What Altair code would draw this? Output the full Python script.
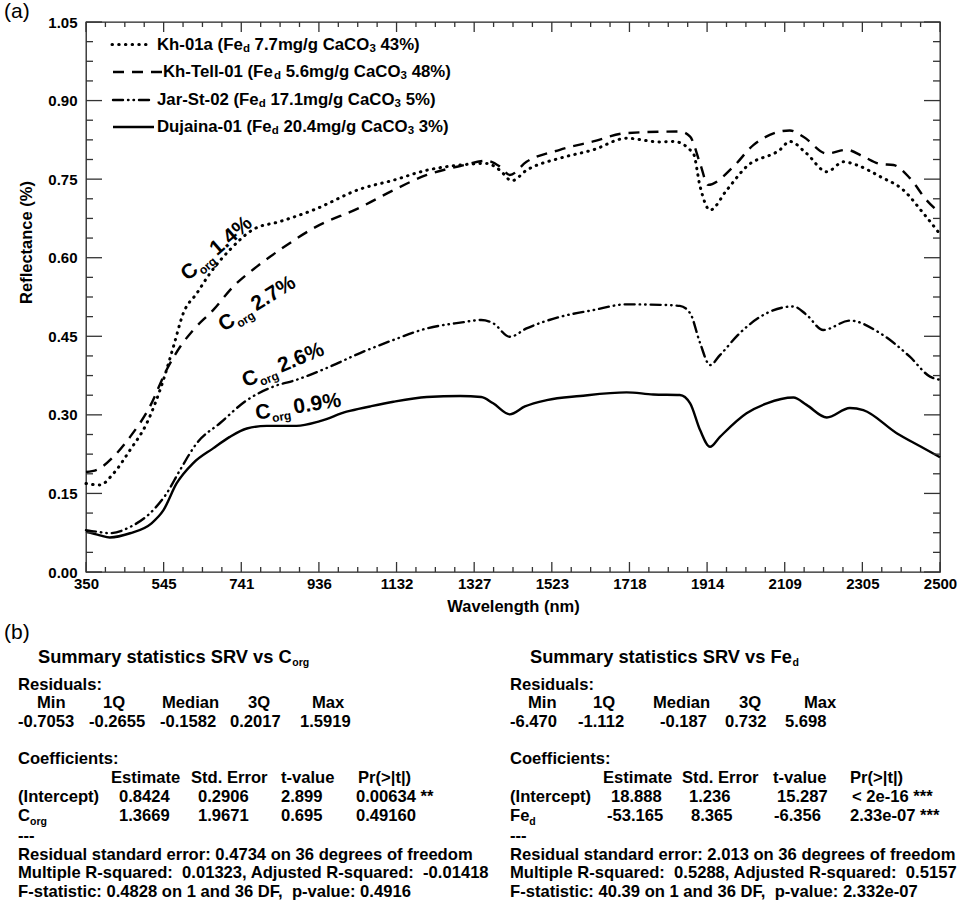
import altair as alt
import pandas as pd

FONT = "Liberation Sans"

# ---------------- data: reflectance spectra ----------------
KH01A_WL = [350, 385, 419, 461, 503, 545, 570, 595, 629, 662, 712, 771, 838, 922, 1040, 1124, 1208, 1292, 1359, 1392,
            1422, 1459, 1543, 1627, 1711, 1795, 1829, 1879, 1896, 1921, 1963, 2013, 2097, 2122, 2164, 2215, 2257, 2290,
            2349, 2408, 2458, 2500]
KH01A_R = [0.169, 0.166, 0.188, 0.233, 0.284, 0.367, 0.430, 0.494, 0.532, 0.570, 0.615, 0.654, 0.669, 0.691, 0.731,
           0.748, 0.767, 0.777, 0.780, 0.767, 0.747, 0.767, 0.790, 0.806, 0.828, 0.821, 0.822, 0.799, 0.736, 0.691,
           0.729, 0.774, 0.806, 0.822, 0.799, 0.764, 0.783, 0.777, 0.755, 0.729, 0.685, 0.645]

KHTELL_WL = [350, 377, 419, 461, 511, 553, 587, 620, 670, 721, 780, 838, 922, 1040, 1124, 1208, 1292, 1359, 1392, 1417,
             1459, 1543, 1627, 1711, 1845, 1871, 1896, 1916, 1980, 2030, 2122, 2156, 2215, 2265, 2307, 2349, 2383, 2424,
             2466, 2500]
KHTELL_R = [0.191, 0.195, 0.220, 0.258, 0.316, 0.386, 0.430, 0.462, 0.500, 0.545, 0.583, 0.615, 0.656, 0.696, 0.729,
            0.758, 0.775, 0.785, 0.774, 0.758, 0.783, 0.806, 0.822, 0.838, 0.841, 0.831, 0.780, 0.739, 0.774, 0.815,
            0.843, 0.831, 0.799, 0.806, 0.793, 0.779, 0.777, 0.752, 0.710, 0.685]

JAR_WL = [350, 385, 410, 461, 511, 553, 587, 629, 687, 755, 822, 880, 964, 1040, 1124, 1208, 1292, 1345, 1375, 1417,
          1459, 1543, 1627, 1711, 1795, 1845, 1871, 1896, 1921, 1946, 1996, 2047, 2131, 2164, 2206, 2273, 2349, 2424,
          2475, 2500]
JAR_R = [0.080, 0.076, 0.074, 0.086, 0.112, 0.150, 0.195, 0.246, 0.284, 0.328, 0.354, 0.367, 0.392, 0.418, 0.443,
         0.465, 0.476, 0.481, 0.475, 0.449, 0.465, 0.487, 0.500, 0.511, 0.510, 0.508, 0.494, 0.437, 0.395, 0.414,
         0.456, 0.487, 0.507, 0.491, 0.462, 0.480, 0.456, 0.411, 0.373, 0.367]

DUJ_WL = [350, 385, 410, 461, 515, 545, 578, 620, 670, 712, 755, 805, 880, 939, 1006, 1065, 1124, 1208, 1292, 1345,
          1375, 1417, 1455, 1510, 1594, 1711, 1778, 1845, 1871, 1896, 1921, 1946, 2013, 2064, 2131, 2164, 2215, 2273,
          2307, 2391, 2450, 2500]
DUJ_R = [0.077, 0.070, 0.066, 0.074, 0.093, 0.118, 0.169, 0.208, 0.236, 0.258, 0.274, 0.279, 0.279, 0.288, 0.306,
         0.316, 0.325, 0.334, 0.336, 0.334, 0.322, 0.301, 0.316, 0.328, 0.336, 0.343, 0.339, 0.338, 0.322, 0.271,
         0.239, 0.258, 0.303, 0.322, 0.333, 0.319, 0.295, 0.313, 0.309, 0.265, 0.240, 0.219]

# legend entries
LEG_NAME = ["Kh-01a", "Kh-Tell-01", "Jar-St-02", "Dujaina-01"]
LEG_FED = ["7.7mg/g", "5.6mg/g", "17.1mg/g", "20.4mg/g"]
LEG_CACO3 = ["43%)", "48%)", "5%)", "3%)"]

# C_org annotations
ANN_WL = [597, 689, 746, 777]
ANN_R = [0.563, 0.468, 0.363, 0.302]
ANN_PCT = ["1.4%", "2.7%", "2.6%", "0.9%"]
ANN_ANGLE = [319, 328, 337.5, 351]

# axis ticks
X_TICKS = [round(350 + i * 2150 / 11, 3) for i in range(12)]
X_MINOR = [round(350 + k * 2150 / 44, 3) for k in range(45) if k % 4]
Y_TICKS = [0.0, 0.15, 0.30, 0.45, 0.60, 0.75, 0.90, 1.05]
Y_MINOR = [round(0.0375 * k, 4) for k in range(29) if k % 4]

# statistics text (panel b)
RES_HEAD = ["Min", "1Q", "Median", "3Q", "Max"]
CORG_RES = ["-0.7053", "-0.2655", "-0.1582", "0.2017", "1.5919"]
FED_RES = ["-6.470", "-1.112", "-0.187", "0.732", "5.698"]
COEF_HEAD = ["Estimate", "Std. Error", "t-value", "Pr(>|t|)"]
CORG_INT = ["0.8424", "0.2906", "2.899", "0.00634 **"]
CORG_SLOPE = ["1.3669", "1.9671", "0.695", "0.49160"]
FED_INT = ["18.888", "1.236", "15.287", "< 2e-16 ***"]
FED_SLOPE = ["-53.165", "8.365", "-6.356", "2.33e-07 ***"]
CORG_FOOT = ["Residual standard error: 0.4734 on 36 degrees of freedom",
             "Multiple R-squared:  0.01323, Adjusted R-squared:  -0.01418",
             "F-statistic: 0.4828 on 1 and 36 DF,  p-value: 0.4916"]
FED_FOOT = ["Residual standard error: 2.013 on 36 degrees of freedom",
            "Multiple R-squared:  0.5288, Adjusted R-squared:  0.5157",
            "F-statistic: 40.39 on 1 and 36 DF,  p-value: 2.332e-07"]

# ---------------- layout ----------------
L, T = 86, 22          # plot origin in page pixels
W, H = 854, 550        # plot size
ONE = pd.DataFrame({"k": [0]})

AW = {' ': 278, '\u00a0': 278, '!': 333, '%': 889, '(': 333, ')': 333, '*': 389, ',': 278, '-': 333, '.': 278,
      '/': 278, ':': 333, '<': 584, '>': 584, '|': 280,
      'A': 722, 'B': 722, 'C': 722, 'D': 722, 'E': 667, 'F': 611, 'G': 778, 'H': 722, 'I': 278, 'J': 556, 'K': 722,
      'L': 611, 'M': 833, 'N': 722, 'O': 778, 'P': 667, 'Q': 778, 'R': 722, 'S': 667, 'T': 611, 'U': 722, 'V': 667,
      'W': 944, 'X': 667, 'Y': 667, 'Z': 611,
      'a': 556, 'b': 611, 'c': 556, 'd': 611, 'e': 556, 'f': 333, 'g': 611, 'h': 611, 'i': 278, 'j': 278, 'k': 556,
      'l': 278, 'm': 889, 'n': 611, 'o': 611, 'p': 611, 'q': 611, 'r': 389, 's': 556, 't': 333, 'u': 611, 'v': 556,
      'w': 778, 'x': 556, 'y': 556, 'z': 500}


def tw(s, size):
    return sum(AW.get(c, 556) for c in s) * size / 1000.0


def fix(s):
    return s.replace("  ", " \u00a0")


def piece(s, px, py, size, weight="bold", baseline="middle", align="left"):
    return alt.Chart(ONE).mark_text(align=align, baseline=baseline, font=FONT, fontSize=size,
                                    fontWeight=weight, color="black").encode(
        x=alt.value(px - L), y=alt.value(py - T), text=alt.value(fix(s)))


def rich(parts, px, py, size, sub_size, drop=None):
    """parts: list of (text, is_subscript)"""
    out = []
    cx = px
    base = py + 0.3 * size
    if drop is None:
        drop = 0.18 * size
    for s, sub in parts:
        sz = sub_size if sub else size
        lead = len(s) - len(s.lstrip(" "))
        cx += tw(" " * lead, size)
        core = s.strip(" ")
        if sub:
            out.append(piece(core, cx, base + drop, sz, baseline="alphabetic"))
        else:
            out.append(piece(core, cx, py, sz))
        cx += tw(core, sz)
    return out


xscale = alt.Scale(domain=[350, 2500], nice=False, zero=False)
yscale = alt.Scale(domain=[0, 1.05], nice=False, zero=False)
xaxis = alt.Axis(values=X_TICKS, format=".0f", title="Wavelength (nm)", labelFont=FONT, labelFontSize=15,
                 labelFontWeight="bold", labelColor="black", labelPadding=4, ticks=False, tickSize=0,
                 domain=False, grid=False, labelFlush=False, labelOverlap=False,
                 titleFont=FONT, titleFontSize=16.5, titleFontWeight="bold", titleColor="black",
                 titleY=34, titleBaseline="middle")
yaxis = alt.Axis(values=Y_TICKS, format=".2f", title="Reflectance (%)", labelFont=FONT, labelFontSize=15,
                 labelFontWeight="bold", labelColor="black", labelPadding=9, ticks=False, tickSize=0,
                 domain=False, grid=False, labelFlush=False, labelOverlap=False,
                 titleFont=FONT, titleFontSize=16.5, titleFontWeight="bold", titleColor="black",
                 titleX=-60, titleY=220, titleAngle=270, titleBaseline="middle", titleAlign="center")
X = alt.X("x:Q", scale=xscale, axis=xaxis)
Y = alt.Y("y:Q", scale=yscale, axis=yaxis)

layers = []

# spectra
STYLES = [
    dict(strokeDash=[0.5, 6.2], strokeWidth=3.0, strokeCap="round"),
    dict(strokeDash=[11, 8], strokeWidth=2.4),
    dict(strokeDash=[10, 5, 0.5, 5, 0.5, 5], strokeWidth=2.4, strokeCap="round"),
    dict(strokeWidth=2.4),
]
for wl, r, st in [(KH01A_WL, KH01A_R, STYLES[0]), (KHTELL_WL, KHTELL_R, STYLES[1]),
                  (JAR_WL, JAR_R, STYLES[2]), (DUJ_WL, DUJ_R, STYLES[3])]:
    df = pd.DataFrame({"x": wl, "y": r})
    layers.append(alt.Chart(df).mark_line(color="black", interpolate="monotone", **st).encode(x=X, y=Y))

# inward ticks
TC = "#333333"
ydf_maj = pd.DataFrame({"y": Y_TICKS})
ydf_min = pd.DataFrame({"y": Y_MINOR})
xdf_maj = pd.DataFrame({"x": X_TICKS})
xdf_min = pd.DataFrame({"x": X_MINOR})
for d, a, b in [(ydf_maj, 0, 16), (ydf_min, 0, 7), (ydf_maj, W, W - 16), (ydf_min, W, W - 7)]:
    layers.append(alt.Chart(d).mark_rule(color=TC, strokeWidth=1.3).encode(y=Y, x=alt.value(a), x2=alt.value(b)))
for d, a, b in [(xdf_maj, H, H - 10), (xdf_min, H, H - 5), (xdf_maj, 0, 10), (xdf_min, 0, 5)]:
    layers.append(alt.Chart(d).mark_rule(color=TC, strokeWidth=1.3).encode(x=X, y=alt.value(a), y2=alt.value(b)))

# C_org annotations
ann = pd.DataFrame({"x": ANN_WL, "y": ANN_R, "pct": ANN_PCT, "angle": ANN_ANGLE})
ANG = alt.Angle("angle:Q", scale=None)
layers.append(alt.Chart(ann).mark_text(align="left", baseline="middle", font=FONT, fontSize=21,
                                       fontWeight="bold", color="black").encode(x=X, y=Y, angle=ANG,
                                                                                text=alt.value("C")))
layers.append(alt.Chart(ann).mark_text(align="left", baseline="middle", font=FONT, fontSize=12, dx=15.5, dy=7,
                                       fontWeight="bold", color="black").encode(x=X, y=Y, angle=ANG,
                                                                                text=alt.value("org")))
layers.append(alt.Chart(ann).mark_text(align="left", baseline="middle", font=FONT, fontSize=21, dx=38.5,
                                       fontWeight="bold", color="black").encode(x=X, y=Y, angle=ANG,
                                                                                text=alt.Text("pct:N")))

# legend
LEG_Y = [44.5, 72, 100, 127]
LEG_X0 = [157, 163, 157, 157]
LEG_SAMPLE = [(112, 150), (113, 162), (113, 152), (113, 154)]
for i in range(4):
    x1, x2 = LEG_SAMPLE[i]
    layers.append(alt.Chart(ONE).mark_rule(color="black", **STYLES[i]).encode(
        x=alt.value(x1 - L), x2=alt.value(x2 - L), y=alt.value(LEG_Y[i] - T)))
    layers += rich([(LEG_NAME[i] + " (Fe", False), ("d", True), (" " + LEG_FED[i] + " CaCO", False),
                    ("3", True), (" " + LEG_CACO3[i], False)], LEG_X0[i], LEG_Y[i], 16.8, 11.5, drop=2)

# panel labels
layers.append(piece("(a)", 4, 12, 21, weight="normal"))
layers.append(piece("(b)", 4, 633, 21, weight="normal"))

# panel (b) statistics
FS = 16.6


def stats_block(bx, title_parts, res_vals, res_head_x, res_val_x, coef_head_x, int_x, slope_x,
                slope_label, int_vals, slope_vals, foot):
    out = []
    out += rich(title_parts, bx + 20, 658, 18.3, 10.5, drop=3)
    out.append(piece("Residuals:", bx, 685, FS))
    for s, xx in zip(RES_HEAD, res_head_x):
        out.append(piece(s, xx, 703, FS))
    for s, xx in zip(res_vals, res_val_x):
        out.append(piece(s, xx, 722, FS))
    out.append(piece("Coefficients:", bx, 759, FS))
    for s, xx in zip(COEF_HEAD, coef_head_x):
        out.append(piece(s, xx, 778, FS))
    out.append(piece("(Intercept)", bx, 797, FS))
    for s, xx in zip(int_vals, int_x):
        out.append(piece(s, xx, 797, FS))
    out += rich(slope_label, bx, 816, FS, 10.5, drop=4)
    for s, xx in zip(slope_vals, slope_x):
        out.append(piece(s, xx, 816, FS))
    out.append(piece("---", bx, 836, FS))
    for s, yy in zip(foot, [855, 873, 892]):
        out.append(piece(s, bx, yy, FS))
    return out


layers += stats_block(18, [("Summary statistics SRV vs C", False), ("org", True)], CORG_RES,
                      [37, 103, 162, 248, 312], [18, 89, 160, 230, 300], [111, 191, 281, 358],
                      [119, 198, 281, 356], [119, 198, 281, 356],
                      [("C", False), ("org", True)], CORG_INT, CORG_SLOPE, CORG_FOOT)
layers += stats_block(510, [("Summary statistics SRV vs Fe", False), ("d", True)], FED_RES,
                      [528, 593, 653, 739, 804], [510, 578, 660, 725, 785], [603, 682, 773, 850],
                      [611, 689, 777, 852], [607, 691, 774, 850],
                      [("Fe", False), ("d", True)], FED_INT, FED_SLOPE, FED_FOOT)

chart = alt.layer(*layers).properties(
    width=W, height=H,
    autosize=alt.AutoSizeParams(type="none"),
    padding={"left": L, "top": T, "right": 973 - L - W, "bottom": 902 - T - H},
    background="white",
).configure_view(stroke="#222222", strokeWidth=1.3)

chart.save("out.html", embed_options={"renderer": "svg", "actions": False})
